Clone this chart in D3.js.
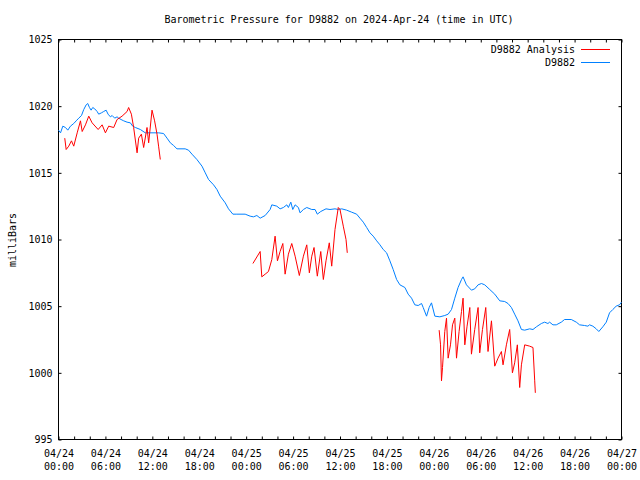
<!DOCTYPE html>
<html>
<head>
<meta charset="utf-8">
<script src="https://cdn.jsdelivr.net/npm/d3@7"></script>
<style>
html,body{margin:0;padding:0;background:#fff;}
svg{display:block;}
text{font-family:"DejaVu Sans Mono",monospace;font-size:10px;fill:#000;}
</style>
</head>
<body>
<svg id="chart" width="640" height="480"></svg>
<script>
const titleText = "Barometric Pressure for D9882 on 2024-Apr-24 (time in UTC)";
const yLabel = "milliBars";
const seriesNames = ["D9882 Analysis", "D9882"];
const startTime = "2024-04-24T00:00:00Z";
const endTime = "2024-04-27T00:00:00Z";
const yTicks = [995, 1000, 1005, 1010, 1015, 1020, 1025];

// D9882 observations: hours since 2024-04-24 00:00 UTC, pressure in mb
const blueHours = [0,0.26,0.55,0.89,1.19,1.53,1.95,2.26,2.59,2.94,
3.23,3.54,3.74,3.96,4.17,4.38,4.63,4.94,5.14,5.49,
5.78,6.09,6.34,6.64,6.86,7.19,7.49,7.7,8.0,8.34,
8.77,9.19,9.49,9.83,10.47,11.1,12.8,13.44,13.88,14.3,
14.72,15.15,16.2,16.63,17.07,17.7,18.35,18.77,19.19,19.83,
20.26,20.68,21.32,21.74,22.3,22.81,23.87,24.51,24.93,25.37,
25.79,26.43,27.06,27.28,27.92,28.34,28.76,29.2,29.4,29.71,
29.96,30.26,30.68,30.89,31.32,31.75,32.39,32.81,33.1,33.54,
34.21,34.72,35.36,35.78,36.22,36.85,37.49,38.13,38.55,38.98,
39.41,39.83,40.25,40.69,41.11,41.53,41.96,42.38,42.8,43.24,
43.66,44.3,44.72,45.15,45.57,46.0,46.43,46.64,47.07,47.4,
47.7,48.13,48.77,49.4,49.83,50.26,50.68,51.1,51.54,51.74,
52.17,52.81,53.23,53.66,54.09,54.51,55.15,55.79,56.43,57.06,
57.49,57.92,58.34,58.76,59.2,59.62,60.26,60.68,61.11,61.75,
62.17,62.59,62.81,63.23,63.66,64.3,64.72,65.58,66.22,66.64,
67.28,67.7,67.91,68.34,68.77,69.1,69.61,70.05,70.47,70.89,
71.32,71.74,72];
const bluePressure = [1018.2,1018.0,1018.5,1018.4,1018.2,1018.5,1018.7,1018.9,1019.1,1019.3,
1019.75,1020.1,1020.2,1019.9,1019.7,1019.9,1019.8,1019.6,1019.4,1019.5,
1019.6,1019.7,1019.4,1019.2,1019.3,1019.1,1019.2,1019.1,1019.0,1018.9,
1018.8,1018.75,1018.5,1018.4,1018.25,1018.0,1018.0,1017.95,1017.6,1017.25,
1017.05,1016.8,1016.8,1016.7,1016.4,1016.0,1015.5,1015.0,1014.5,1014.1,
1013.75,1013.25,1012.75,1012.3,1011.9,1011.9,1011.9,1011.75,1011.7,1011.8,
1011.6,1011.8,1012.25,1012.6,1012.5,1012.3,1012.4,1012.6,1012.4,1012.8,
1012.25,1012.6,1012.4,1012.0,1012.25,1012.4,1012.25,1012.25,1011.9,1012.1,
1012.3,1012.25,1012.3,1012.25,1012.3,1012.2,1012.05,1011.9,1011.6,1011.3,
1010.9,1010.5,1010.25,1009.9,1009.6,1009.25,1009.0,1008.4,1007.75,1007.0,
1006.6,1006.4,1005.9,1005.6,1005.1,1005.05,1005.2,1004.9,1004.25,1004.9,
1005.25,1004.25,1004.2,1004.3,1004.4,1004.75,1005.6,1006.4,1007.0,1007.2,
1006.6,1006.2,1006.3,1006.6,1006.7,1006.6,1006.25,1005.9,1005.4,1005.35,
1005.2,1004.9,1004.4,1003.9,1003.25,1003.2,1003.3,1003.25,1003.45,1003.7,
1003.8,1003.7,1003.8,1003.6,1003.6,1003.8,1004.0,1004.0,1003.8,1003.6,
1003.55,1003.5,1003.6,1003.5,1003.3,1003.1,1003.45,1003.8,1004.5,1004.75,
1005.0,1005.1,1005.3];

// D9882 Analysis: three separate segments
const analysisHours1 = [0.8,0.98,1.31,1.66,1.95,2.39,2.81,3.03,3.45,3.87,4.3,5.07,5.58,6.0,6.42,7.06,7.49,8.13,8.77,8.97,9.32,9.61,10.05,10.25,10.6,10.89,11.32,11.53,11.96,12.29,12.6,12.8,13.02];
const analysisValues1 = [1017.6,1016.75,1017.0,1017.4,1017.0,1018.0,1018.9,1018.1,1018.6,1019.25,1018.75,1018.25,1018.6,1018.0,1018.5,1018.4,1019.0,1019.25,1019.6,1019.9,1019.4,1018.4,1016.5,1017.6,1017.9,1016.9,1018.4,1017.25,1019.7,1018.9,1017.9,1017.0,1016.0];
const analysisHours2 = [24.86,25.79,26.0,26.43,26.85,27.28,27.7,28.0,28.34,28.69,28.98,29.4,29.83,30.26,30.8,31.32,31.75,32.08,32.39,32.68,33.1,33.54,33.87,34.21,34.63,34.94,35.36,35.78,36.0,36.42,36.77,36.93];
const analysisValues2 = [1008.2,1009.1,1007.2,1007.4,1007.6,1008.5,1010.25,1008.4,1009.1,1009.7,1007.4,1008.9,1009.7,1008.75,1007.3,1008.75,1009.6,1007.5,1008.75,1009.4,1007.25,1009.1,1007.0,1008.4,1009.75,1008.0,1010.75,1012.4,1012.25,1011.0,1010.0,1009.0];
const analysisHours3 = [48.68,48.86,48.98,49.11,49.4,49.62,49.83,50.13,50.39,50.68,50.9,51.23,51.54,51.74,51.96,52.25,52.6,52.81,53.23,53.66,53.87,54.22,54.64,54.93,55.37,55.79,56.21,56.64,56.85,57.28,57.7,58.05,58.34,58.68,58.98,59.2,59.62,60.26,60.68,60.9,60.98];
const analysisValues3 = [1003.2,1002.1,999.4,1000.4,1003.1,1004.1,1001.1,1002.1,1003.6,1004.1,1001.1,1003.1,1004.6,1005.6,1002.1,1003.5,1004.9,1001.4,1003.25,1004.9,1001.5,1003.25,1004.9,1001.6,1003.9,1000.5,1001.1,1001.6,1000.6,1002.1,1003.25,1000.0,1000.75,1002.1,998.9,1000.6,1002.1,1002.0,1001.9,999.4,998.5];

const colors = ["#ff0000", "#0080ff"];

const svg = d3.select("#chart");
const t0 = new Date(startTime), t1 = new Date(endTime);
const toDate = h => new Date(t0.getTime() + h * 3600000);

const x = d3.scaleUtc().domain([t0, t1]).range([58.5, 621.5]);
const y = d3.scaleLinear().domain([995, 1025]).range([439.5, 39.5]);

const fmtDay = d3.utcFormat("%m/%d"), fmtTime = d3.utcFormat("%H:%M");

// Frame
svg.append("rect").attr("x", x.range()[0]).attr("y", y.range()[1])
  .attr("width", x.range()[1] - x.range()[0]).attr("height", y.range()[0] - y.range()[1])
  .attr("fill", "none").attr("stroke", "#000").attr("stroke-width", 1);

// tick-only axes (inward)
function clean(g){ g.select(".domain").remove(); g.selectAll("line").attr("stroke","#000"); }
svg.append("g").attr("transform", `translate(0,${y.range()[0]})`)
  .call(d3.axisBottom(x).ticks(d3.utcHour.every(2)).tickSize(-3).tickFormat(""))
  .call(clean);
svg.append("g").attr("transform", `translate(0,${y.range()[1]})`)
  .call(d3.axisTop(x).ticks(d3.utcHour.every(2)).tickSize(-3).tickFormat(""))
  .call(clean);
svg.append("g").attr("transform", `translate(${x.range()[0]},0)`)
  .call(d3.axisLeft(y).tickValues(yTicks).tickSize(-3).tickPadding(6).tickFormat(d3.format("d")))
  .call(clean)
  .call(g => g.selectAll("text").attr("font-family", "DejaVu Sans Mono").attr("font-size", 10).attr("fill","#000"));
svg.append("g").attr("transform", `translate(${x.range()[1]},0)`)
  .call(d3.axisRight(y).tickValues(yTicks).tickSize(-3).tickFormat(""))
  .call(clean);

// X labels (two lines)
const xl = svg.append("g").attr("transform", `translate(0,${y.range()[0]})`)
  .call(d3.axisBottom(x).ticks(d3.utcHour.every(6)).tickSize(0).tickPadding(0).tickFormat(""));
xl.select(".domain").remove();
xl.selectAll(".tick").each(function(d){
  const g = d3.select(this);
  const t = g.append("text").attr("text-anchor","middle").attr("fill","#000");
  t.append("tspan").attr("x",0).attr("y",17).text(fmtDay(d));
  t.append("tspan").attr("x",0).attr("y",30).text(fmtTime(d));
});

// Lines
const line = d3.line().x(d => x(d[0])).y(d => y(d[1]));
const zipData = (hs, vs) => hs.map((h,i) => [toDate(h), vs[i]]);

svg.append("path").datum(zipData(blueHours, bluePressure))
  .attr("d", line).attr("fill","none").attr("stroke", colors[1]).attr("stroke-width", 1);

[[analysisHours1, analysisValues1],[analysisHours2, analysisValues2],[analysisHours3, analysisValues3]]
  .forEach(([hs, vs]) => {
    svg.append("path").datum(zipData(hs, vs))
      .attr("d", line).attr("fill","none").attr("stroke", colors[0]).attr("stroke-width", 1);
  });

// Title
svg.append("text").attr("x", 339).attr("y", 23).attr("text-anchor","middle").text(titleText);

// Y label
svg.append("text").attr("transform","translate(13,240) rotate(-90)")
  .attr("text-anchor","middle").attr("dy","0.32em").text(yLabel);

// Legend
const legY = [49.5, 62.5];
seriesNames.forEach((name, i) => {
  svg.append("text").attr("x", 575).attr("y", legY[i]).attr("dy","0.35em")
    .attr("text-anchor","end").text(name);
  svg.append("line").attr("x1", 581).attr("x2", 610).attr("y1", legY[i]).attr("y2", legY[i])
    .attr("stroke", colors[i]).attr("stroke-width", 1);
});
</script>
</body>
</html>
